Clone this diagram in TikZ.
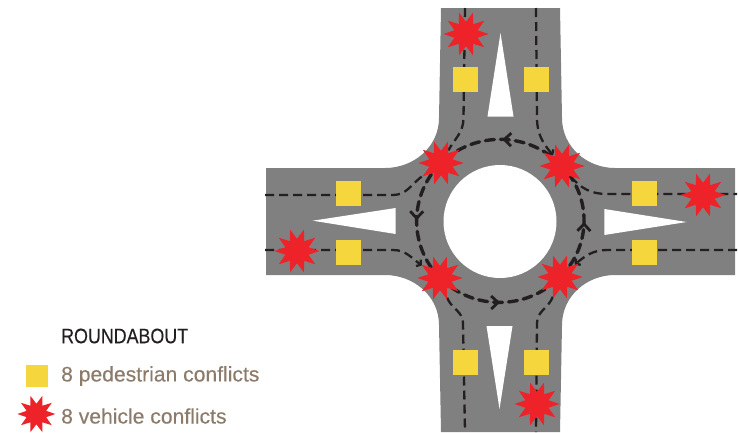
\documentclass[tikz,border=0pt]{standalone}
\usepackage{fontspec}
\setmainfont{Liberation Sans}
\newfontfamily\headfont[FakeStretch=0.85,FakeBold=0.3]{Liberation Sans}
\newfontfamily\bodyfont[FakeStretch=1.005,FakeBold=0.3]{Liberation Sans}
\usetikzlibrary{arrows.meta,positioning,shapes.geometric,decorations.markings}
\definecolor{asphalt}{HTML}{808080}
\definecolor{signal}{HTML}{F5D63D}
\definecolor{crash}{HTML}{EE2229}
\definecolor{ink}{HTML}{231F20}
\definecolor{taupe}{HTML}{8C7B6B}
\pgfdeclarelayer{roadlayer}
\pgfsetlayers{roadlayer,main}
\tikzset{
  crossing/.style={rectangle,fill=signal,minimum size=25pt,inner sep=0pt},
  burst/.style={star,star points=10,star point ratio=1.85,shape border rotate=18,fill=crash,minimum size=45pt,inner sep=0pt},
  island/.style={fill=white},
  lane/.style={draw=ink,line width=2.3pt,dash pattern=on 9pt off 5pt},
  lanein/.style={lane,-{Straight Barb[length=3pt,width=8pt]}},
  ring/.style={draw=ink,line width=3.4pt,dash pattern=on 9pt off 6pt,line cap=round,
    postaction={decorate,decoration={markings,mark=at position 0.5 with {\arrow[solid,line width=2.8pt]{Straight Barb[length=7pt,width=13pt]}}}}},
  legendtitle/.style={font=\headfont\fontsize{21}{24}\selectfont,text=ink,inner sep=0pt,anchor=west},
  legendtext/.style={font=\bodyfont\fontsize{21}{24}\selectfont,text=taupe,inner sep=0pt,anchor=west}
}
\begin{document}
\begin{tikzpicture}[x=1pt,y=-1pt]
  \useasboundingbox (0,0) rectangle (738,432);

  % crossings
  \node[crossing] (walkNW) at (465.5,79.5) {};
  \node[crossing] (walkNE) at (536.5,79.5) {};
  \node[crossing] (walkWN) at (348.5,193.5) {};
  \node[crossing] (walkWS) at (348.5,252.5) {};
  \node[crossing] (walkEN) at (644.5,193.5) {};
  \node[crossing] (walkES) at (644.5,252.5) {};
  \node[crossing] (walkSW) at (465.5,362.5) {};
  \node[crossing] (walkSE) at (536.5,362.5) {};

  % conflicts
  \node[burst] (hitNW) at (441,163) {};
  \node[burst] (hitNE) at (562,166) {};
  \node[burst] (hitSW) at (440,278) {};
  \node[burst] (hitSE) at (560,277) {};
  \node[burst] (hitN) at (466,34) {};
  \node[burst] (hitE) at (703,195) {};
  \node[burst] (hitW) at (297,251) {};
  \node[burst] (hitS) at (537,404) {};

  % free ends
  \coordinate (inN) at (465,8);
  \coordinate (outN) at (536,8);
  \coordinate (inW) at (265,195);
  \coordinate (outW) at (265,250);
  \coordinate (inE) at (737,194);
  \coordinate (outE) at (737,250);
  \coordinate (inS) at (465,432);
  \coordinate (outS) at (536,432);
  \coordinate (bendNW) at (463.5,118);
  \coordinate (bendNE) at (537,118);
  \coordinate (bendWN) at (393,195);
  \coordinate (bendWS) at (393,250);
  \coordinate (bendEN) at (607,194);
  \coordinate (bendES) at (607,250);
  \coordinate (bendSW) at (463,323);
  \coordinate (bendSE) at (537,323);

  \begin{pgfonlayer}{roadlayer}
    \fill[asphalt] (441,8) -- (560,8) -- (562,118) to[out=-90,in=180] (615,168)
      -- (735,168) -- (735,275) -- (615,275) to[out=180,in=90] (562,325)
      -- (560,432) -- (441,432) -- (439,325) to[out=90,in=0] (385,275)
      -- (266,275) -- (266,168) -- (385,168) to[out=0,in=-90] (439,118) -- cycle;
    \fill[white] (500,221.5) circle (56.5);
    \fill[island] (500.5,33) -- (513.5,116.5) -- (487.5,116.5) -- cycle;
    \fill[island] (499.5,409) -- (512.5,326) -- (486.5,326) -- cycle;
    \fill[island] (312.7,220.7) -- (395.7,208) -- (395.7,234) -- cycle;
    \fill[island] (686.7,222) -- (604.3,209) -- (604.3,235) -- cycle;

    \draw[lane] (inN) -- (bendNW) to[out=-90,in=60] (hitNW);
    \draw[lanein] (outN) -- (bendNE) to[out=-90,in=130] (hitNE);
    \draw[lane] (hitNE) to[out=-50,in=180] (bendEN) -- (inE);
    \draw[lanein] (outE) -- (bendES) to[out=180,in=40] (hitSE);
    \draw[lane] (hitSE) to[out=-110,in=90] (bendSE) -- (outS);
    \draw[lane] (hitSW) to[out=-70,in=90] (bendSW) -- (inS);
    \draw[lanein] (outW) -- (bendWS) to[out=0,in=145] (hitSW);
    \draw[lane] (inW) -- (bendWN) to[out=0,in=-145] (hitNW);

    \draw[ring] (hitNE.center) to[bend right=45] (hitNW.center);
    \draw[ring] (hitNW.center) to[bend right=45] (hitSW.center);
    \draw[ring] (hitSW.center) to[bend right=45] (hitSE.center);
    \draw[ring] (hitSE.center) to[bend right=45] (hitNE.center);
  \end{pgfonlayer}

  % legend
  \node[legendtitle] (legendhead) at (61,336) {ROUNDABOUT};
  \node[legendtext] (legendwalk) at (61,376) {8 pedestrian conflicts};
  \node[legendtext] (legendhit) at (61,416) {8 vehicle conflicts};
  \node[crossing,minimum size=22pt,left=13pt of legendwalk] (keywalk) {};
  \node[burst,minimum size=38pt,left=5pt of legendhit,yshift=2pt] (keyhit) {};
\end{tikzpicture}
\end{document}
